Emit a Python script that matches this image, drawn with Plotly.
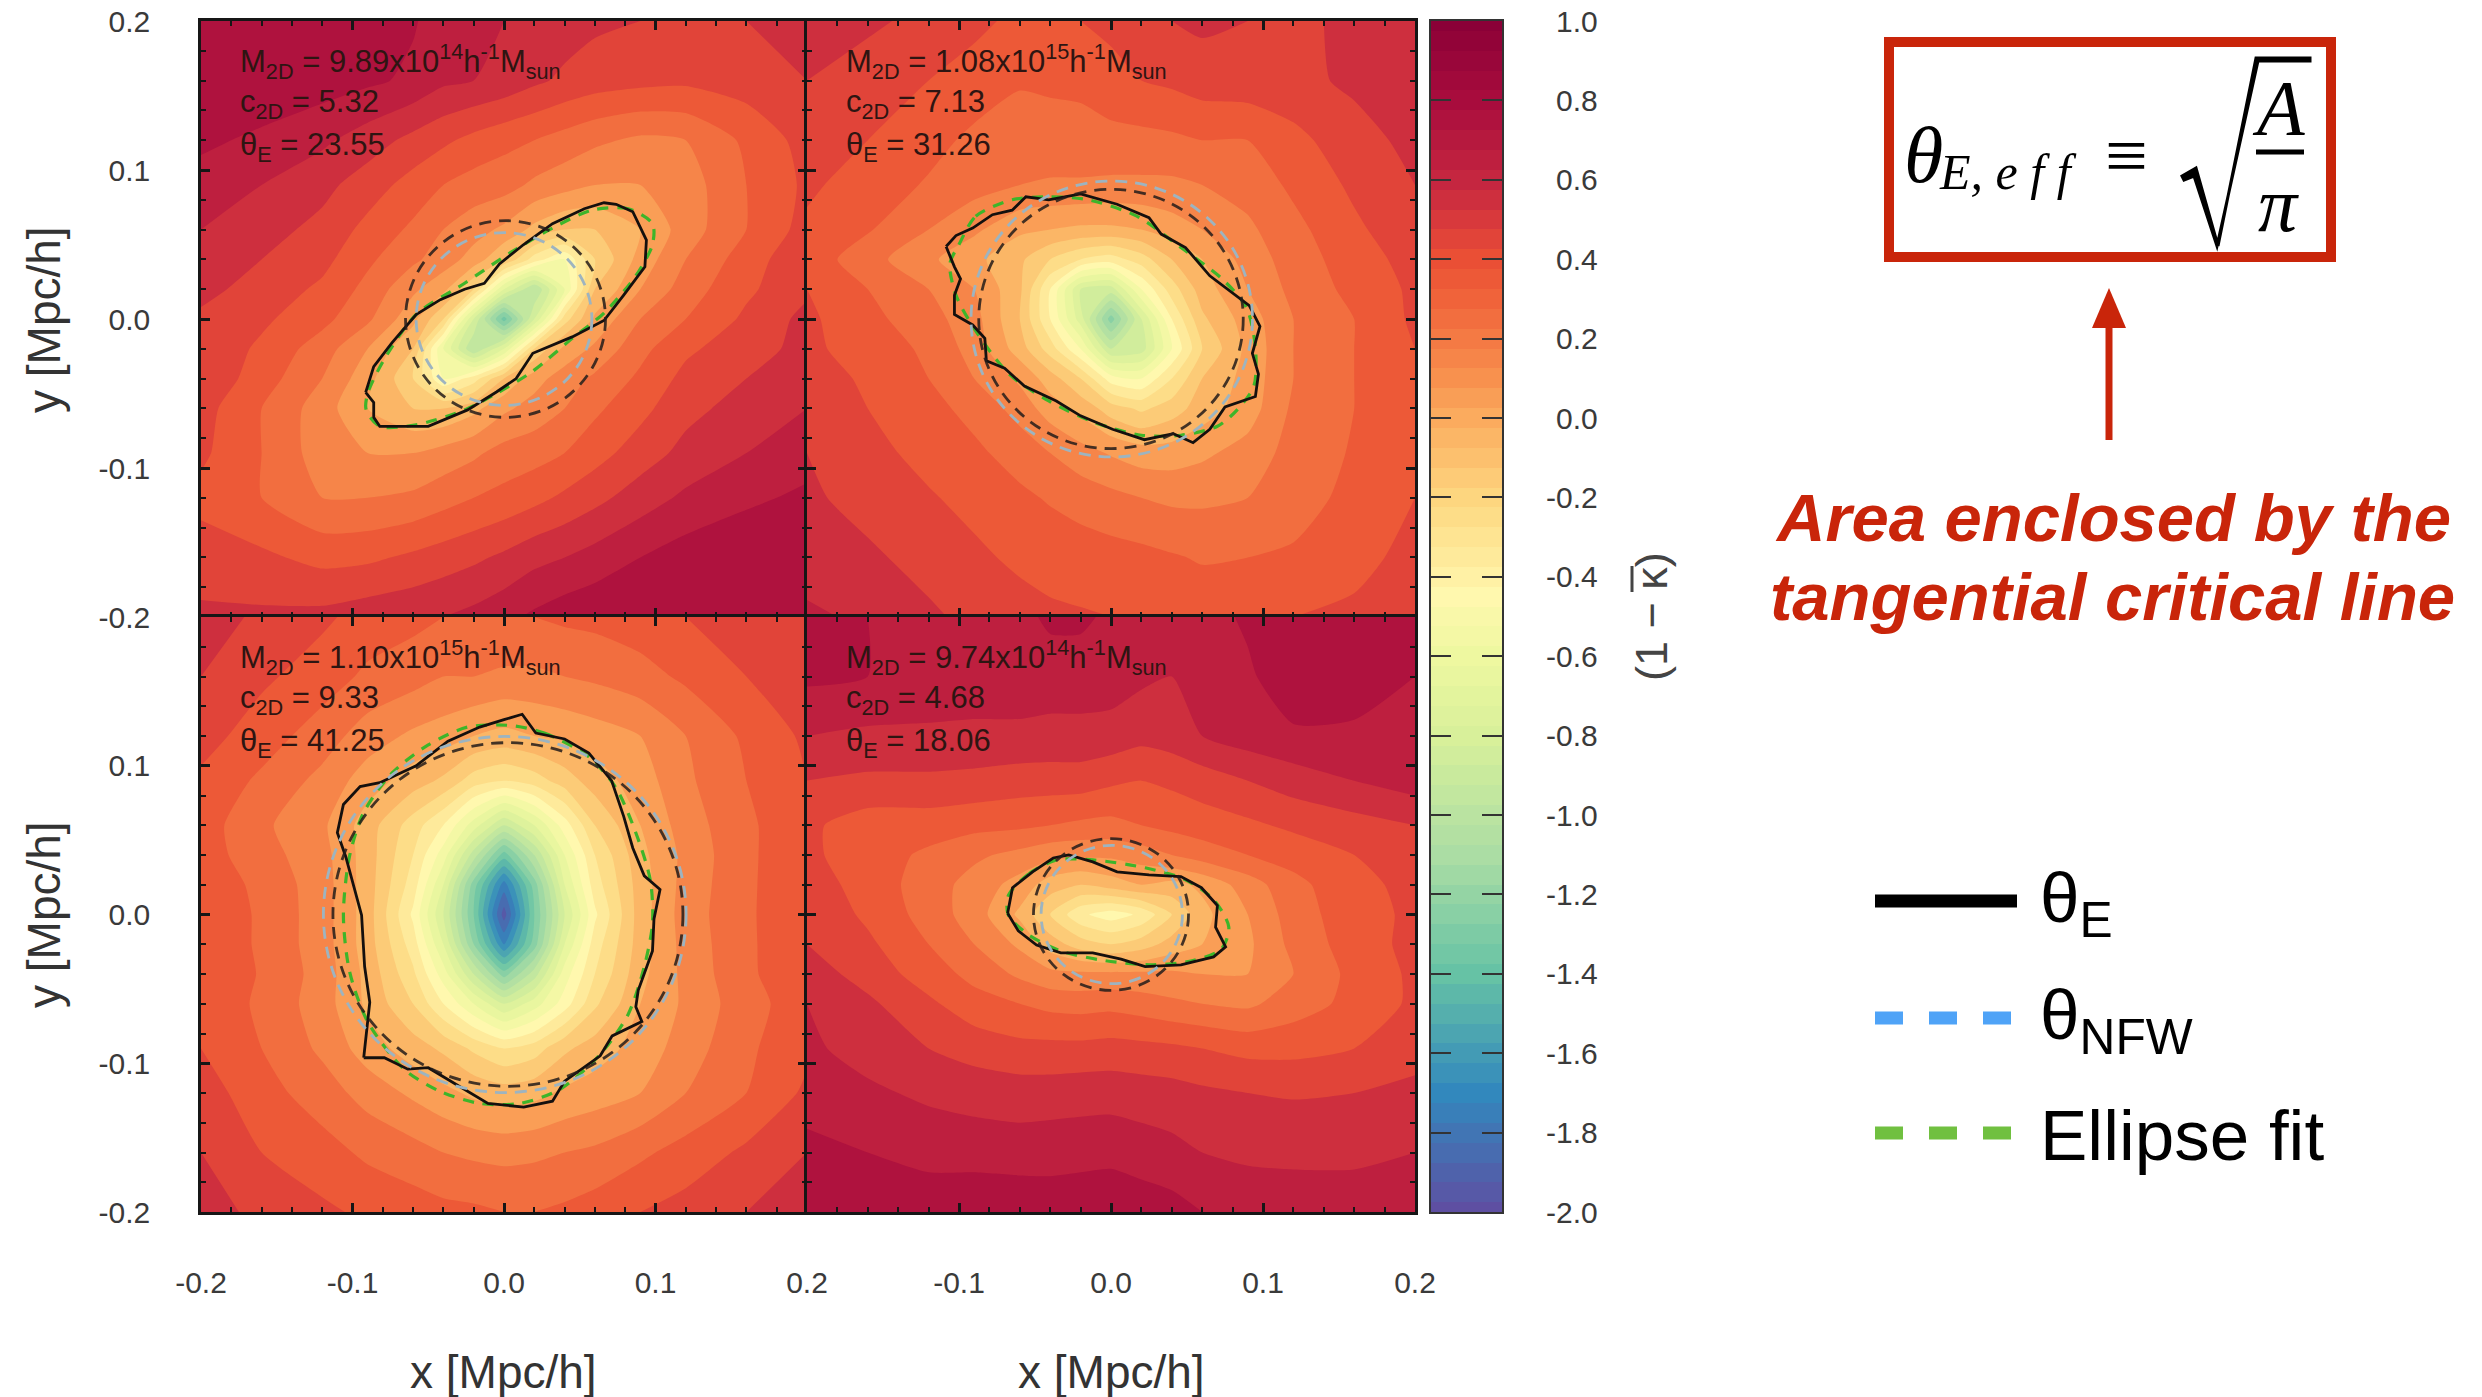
import numpy as np
import plotly.graph_objects as go

W, H = 2482, 1397

grid_x = [-.2, -.16, -.12, -.09, -.06, -.04, -.02, 0, .02, .04, .06, .09, .12, .16, .2]
grid_y = [.2, .16, .12, .09, .06, .04, .02, 0, -.02, -.04, -.06, -.09, -.12, -.16, -.2]

p1_z = [
 [.78,.78,.77,.75,.71,.65,.62,.6,.58,.55,.52,.5,.5,.5,.52],
 [.78,.77,.75,.72,.68,.62,.6,.57,.52,.48,.45,.43,.42,.45,.5],
 [.72,.68,.62,.55,.47,.42,.37,.33,.3,.26,.22,.18,.2,.32,.44],
 [.66,.6,.53,.45,.36,.3,.26,.24,.18,.14,.1,.1,.15,.3,.42],
 [.6,.54,.47,.37,.28,.2,.14,.08,-.03,-.1,-.1,0,.15,.3,.44],
 [.57,.5,.43,.32,.22,.15,.06,-.1,-.35,-.5,-.2,.04,.2,.35,.48],
 [.53,.46,.38,.27,.12,.03,-.2,-.7,-1.0,-.6,-.1,.1,.25,.38,.48],
 [.48,.42,.33,.22,.03,-.2,-.8,-1.35,-.8,-.25,.02,.2,.3,.42,.53],
 [.48,.38,.25,.1,-.1,-.6,-1.0,-.7,-.2,.03,.12,.27,.38,.46,.53],
 [.48,.35,.2,.04,-.2,-.5,-.35,-.1,.06,.15,.22,.32,.43,.5,.57],
 [.44,.3,.15,0,-.1,-.1,-.03,.08,.14,.2,.28,.37,.47,.54,.6],
 [.42,.3,.15,.1,.1,.14,.18,.24,.26,.3,.36,.45,.53,.6,.66],
 [.37,.3,.2,.2,.22,.26,.3,.33,.37,.42,.47,.55,.62,.68,.72],
 [.45,.42,.37,.38,.42,.45,.48,.52,.57,.6,.64,.7,.75,.78,.78],
 [.52,.52,.53,.56,.58,.6,.63,.67,.72,.76,.78,.76,.74,.72,.76],
]
p2_z = [
 [.55,.52,.47,.43,.37,.38,.4,.43,.47,.5,.52,.5,.48,.52,.55],
 [.5,.45,.4,.35,.31,.32,.33,.36,.4,.42,.45,.46,.47,.52,.55],
 [.47,.4,.33,.28,.25,.25,.25,.27,.27,.28,.3,.3,.37,.46,.53],
 [.42,.35,.29,.24,.2,.19,.19,.18,.18,.18,.2,.24,.32,.42,.5],
 [.38,.31,.2,.12,.02,.0,-.02,-.02,0,.05,.1,.18,.27,.38,.47],
 [.36,.24,.12,.03,-.08,-.2,-.3,-.35,-.25,-.1,0,.14,.25,.35,.44],
 [.4,.3,.2,.1,-.08,-.4,-.8,-.85,-.5,-.25,-.05,.1,.23,.33,.42],
 [.42,.33,.24,.14,-.1,-.4,-.75,-1.25,-.8,-.4,-.12,.05,.2,.3,.42],
 [.42,.36,.28,.16,-.05,-.25,-.5,-.9,-.85,-.5,-.2,.03,.2,.3,.4],
 [.46,.38,.3,.2,.08,-.05,-.2,-.45,-.5,-.3,-.1,.04,.2,.3,.4],
 [.47,.4,.33,.27,.16,.05,-.03,-.15,-.22,-.15,-.05,.05,.22,.3,.38],
 [.5,.43,.37,.32,.26,.2,.14,.09,.05,.05,.08,.14,.24,.31,.38],
 [.52,.46,.41,.37,.32,.29,.26,.23,.2,.18,.18,.2,.27,.32,.4],
 [.55,.52,.46,.42,.38,.36,.35,.34,.33,.31,.29,.3,.31,.37,.43],
 [.62,.58,.52,.47,.44,.42,.41,.4,.39,.38,.37,.38,.4,.42,.45],
]
p3_z = [
 [.55,.48,.42,.36,.33,.3,.3,.3,.3,.32,.33,.36,.4,.45,.5],
 [.5,.42,.35,.28,.24,.2,.2,.18,.18,.2,.22,.26,.32,.4,.45],
 [.44,.35,.25,.15,.08,.05,0,-.03,0,.02,.05,.1,.2,.32,.42],
 [.38,.28,.17,.05,-.05,-.12,-.25,-.3,-.25,-.15,-.05,.05,.18,.3,.4],
 [.35,.22,.12,-.05,-.25,-.4,-.65,-.9,-.7,-.45,-.2,0,.15,.28,.38],
 [.35,.24,.14,-.05,-.3,-.55,-.95,-1.35,-1.0,-.6,-.3,-.03,.13,.28,.38],
 [.38,.27,.15,-.05,-.35,-.7,-1.25,-1.75,-1.25,-.7,-.35,-.05,.14,.28,.39],
 [.4,.28,.15,-.05,-.42,-.8,-1.3,-1.95,-1.3,-.8,-.42,-.05,.15,.28,.4],
 [.4,.28,.15,-.05,-.35,-.7,-1.2,-1.7,-1.25,-.7,-.35,-.05,.14,.28,.39],
 [.4,.29,.16,-.03,-.28,-.55,-.9,-1.25,-.95,-.55,-.3,-.03,.13,.28,.38],
 [.38,.28,.15,-.02,-.2,-.4,-.6,-.8,-.65,-.45,-.22,0,.12,.26,.36],
 [.4,.3,.18,.05,-.05,-.12,-.22,-.3,-.25,-.12,-.05,.04,.15,.28,.38],
 [.45,.34,.25,.16,.08,.03,-.02,-.05,-.03,.02,.05,.1,.2,.3,.42],
 [.5,.4,.34,.28,.24,.2,.18,.17,.18,.2,.22,.28,.34,.42,.5],
 [.55,.47,.42,.38,.35,.33,.32,.3,.3,.32,.35,.4,.44,.5,.58],
]
p4_z = [
 [.72,.7,.68,.66,.67,.72,.72,.68,.63,.62,.65,.72,.78,.78,.72],
 [.72,.7,.67,.65,.65,.65,.65,.65,.62,.6,.65,.68,.78,.78,.7],
 [.6,.58,.58,.58,.58,.57,.57,.56,.53,.55,.6,.65,.68,.67,.7],
 [.5,.48,.48,.47,.45,.45,.45,.42,.4,.42,.45,.5,.55,.6,.65],
 [.42,.35,.35,.33,.32,.3,.28,.27,.3,.33,.35,.38,.42,.46,.5],
 [.42,.35,.28,.22,.17,.13,.12,.12,.15,.2,.25,.3,.34,.4,.45],
 [.45,.36,.25,.16,.06,-.05,-.1,-.05,0,-.03,.02,.15,.27,.37,.43],
 [.48,.38,.26,.15,-.02,-.2,-.38,-.45,-.38,-.2,-.03,.1,.25,.36,.42],
 [.5,.42,.3,.2,.08,-.05,-.15,-.2,-.15,-.06,0,.08,.23,.35,.43],
 [.55,.46,.35,.27,.18,.13,.12,.12,.12,.12,.1,.1,.2,.33,.42],
 [.6,.52,.42,.34,.3,.27,.26,.27,.25,.22,.2,.18,.25,.33,.42],
 [.62,.56,.5,.46,.43,.43,.43,.44,.43,.42,.4,.37,.37,.4,.47],
 [.67,.62,.58,.56,.55,.55,.56,.56,.55,.54,.52,.5,.49,.5,.52],
 [.72,.7,.67,.66,.65,.66,.66,.67,.65,.63,.6,.58,.58,.58,.6],
 [.77,.75,.76,.78,.78,.76,.78,.78,.76,.74,.7,.67,.65,.65,.67],
]

p1_crit_x = [-.0913,-.086,-.074,-.058,-.042,-.026,-.013,-.003,.013,.032,.053,.066,.074,.085,.094,.093,.079,.066,.045,.019,.008,-.005,-.024,-.05,-.082,-.086,-.086,-.0913]
p1_crit_y = [-.0492,-.032,-.016,.003,.013,.02,.024,.037,.05,.064,.074,.078,.077,.072,.053,.035,.016,-.001,-.012,-.023,-.04,-.049,-.061,-.072,-.072,-.066,-.056,-.0492]
p1_ell_x = [.098,.082,.058,.032,.005,-.026,-.058,-.079,-.09,-.091,-.082,-.058,-.026,-.005,.019,.045,.066,.087,.098,.098]
p1_ell_y = [.064,.074,.073,.061,.045,.024,.003,-.027,-.05,-.061,-.072,-.071,-.061,-.05,-.035,-.013,.004,.029,.05,.064]

p2_crit_x = [-.1085,-.103,-.099,-.103,-.103,-.091,-.083,-.082,-.07,-.057,-.036,-.02,.001,.022,.041,.054,.065,.075,.095,.097,.093,.098,.091,.075,.065,.049,.033,.025,.004,-.02,-.041,-.056,-.065,-.078,-.091,-.102,-.1085]
p2_crit_y = [.0487,.035,.027,.016,.003,-.004,-.013,-.028,-.033,-.045,-.055,-.065,-.074,-.081,-.077,-.083,-.074,-.059,-.052,-.037,-.023,-.005,.009,.021,.029,.048,.057,.068,.077,.084,.08,.082,.073,.07,.061,.056,.0487]
p2_ell_x = [-.1,-.089,-.065,-.041,-.015,.017,.046,.073,.089,.095,.094,.083,.07,.046,.02,-.012,-.041,-.067,-.089,-.102,-.106,-.1]
p2_ell_y = [.05,.069,.08,.082,.08,.069,.048,.027,.008,-.019,-.045,-.061,-.072,-.078,-.078,-.069,-.055,-.037,-.008,.016,.037,.05]

p3_crit_x = [-.0926,-.09,-.0886,-.092,-.094,-.1045,-.11,-.106,-.095,-.082,-.058,-.037,-.016,0,.012,.021,.04,.056,.071,.079,.085,.0926,.103,.099,.098,.0886,.087,.091,.0714,.0635,.04,.032,.013,-.0106,-.0265,-.05,-.0635,-.079,-.0926]
p3_crit_y = [-.0963,-.072,-.059,-.035,-.0005,.039,.055,.074,.086,.0886,.1,.1165,.126,.131,.1346,.122,.118,.1085,.09,.066,.0447,.026,.0168,-.003,-.0245,-.051,-.062,-.072,-.0816,-.095,-.112,-.1255,-.1295,-.127,-.1175,-.103,-.104,-.0963,-.0963]
p3_ell_x = [.005,.0265,.056,.074,.087,.0966,.098,.0926,.082,.0635,.037,.0106,-.016,-.042,-.066,-.09,-.102,-.106,-.102,-.0926,-.074,-.05,-.024,.005]
p3_ell_y = [.127,.122,.106,.085,.055,.023,-.006,-.035,-.067,-.094,-.1175,-.127,-.127,-.119,-.104,-.072,-.038,-.0005,.039,.0686,.095,.114,.126,.127]

p4_crit_x = [-.068,-.0648,-.0516,-.038,-.0278,-.012,.004,.025,.046,.0595,.07,.0688,.0754,.0675,.046,.0225,.0066,-.012,-.033,-.049,-.061,-.068]
p4_crit_y = [.0008,.018,.0287,.038,.04,.0354,.0287,.0266,.0255,.018,.006,-.0085,-.0218,-.0285,-.0338,-.035,-.03,-.0258,-.0258,-.0205,-.011,.0008]
p4_ell_x = [-.0675,-.054,-.0357,-.012,.0225,.049,.0675,.0775,.0728,.054,.0278,-.004,-.033,-.054,-.0675,-.0675]
p4_ell_y = [.0128,.0274,.0367,.0367,.0314,.0234,.01,-.0085,-.023,-.031,-.0338,-.031,-.0245,-.0138,-.0005,.0128]

nfw_cx = [0, .0005, .0005, .0005]
nfw_r = [.058, .0926, .1197, .0465]
blk_cx = [.001, 0, .0026, 0]
blk_r = [.066, .087, .1155, .051]

mass_text = ["9.89x10<sup>14</sup>", "1.08x10<sup>15</sup>", "1.10x10<sup>15</sup>", "9.74x10<sup>14</sup>"]
c2d = ["5.32", "7.13", "9.33", "4.68"]
theta_e = ["23.55", "31.26", "41.25", "18.06"]

tick_major = [-.2, -.1, 0, .1, .2]
cb_ticks = [1.0, .8, .6, .4, .2, 0, -.2, -.4, -.6, -.8, -1.0, -1.2, -1.4, -1.6, -1.8, -2.0]
cb_labels = ["1.0", "0.8", "0.6", "0.4", "0.2", "0.0", "-0.2", "-0.4", "-0.6", "-0.8", "-1.0", "-1.2", "-1.4", "-1.6", "-1.8", "-2.0"]
cb_levels = np.arange(-2.0, 1.001, .05).tolist()

cs_stops = [(-2, "#5e4fa2"), (-1.7, "#3288bd"), (-1.4, "#66c2a5"), (-1.1, "#abdda4"), (-.8, "#d8f09a"), (-.6, "#eef8a0"),
            (-.45, "#fff8ae"), (-.2, "#fdd67f"), (0, "#fbab5e"), (.1, "#f8914e"), (.2, "#f47a44"), (.3, "#f0633a"),
            (.4, "#ea4f35"), (.5, "#d8393c"), (.6, "#c52640"), (.8, "#a80c3d"), (1.0, "#8b0037")]
colorscale = [[(v + 2) / 3, c] for v, c in cs_stops]

RED = "#c9250a"
FONT = "Liberation Sans"
TXT = "#333333"
PX_L, PX_M, PX_R = 201, 807, 1415
PY_T, PY_M, PY_B = 21, 617, 1212

def px(x): return x / W
def py(y): return 1 - y / H

fig = go.Figure()
fields = [p1_z, p2_z, p3_z, p4_z]
crits = [(p1_crit_x, p1_crit_y), (p2_crit_x, p2_crit_y), (p3_crit_x, p3_crit_y), (p4_crit_x, p4_crit_y)]
ells = [(p1_ell_x, p1_ell_y), (p2_ell_x, p2_ell_y), (p3_ell_x, p3_ell_y), (p4_ell_x, p4_ell_y)]
boxes = [(PX_L, PX_M, PY_T, PY_M), (PX_M, PX_R, PY_T, PY_M), (PX_L, PX_M, PY_M, PY_B), (PX_M, PX_R, PY_M, PY_B)]

annotations, shapes = [], []
def note(text, x, y, size, color=TXT, family=FONT, xanchor="left", yanchor="middle", angle=0, yref="paper"):
    annotations.append(dict(text=text, x=px(x), y=py(y) if yref == "paper" else y, xref="paper", yref=yref,
                            xanchor=xanchor, yanchor=yanchor, showarrow=False, textangle=angle,
                            font=dict(family=family, size=size, color=color)))

for i in range(4):
    n = i + 1
    xa, ya = f"x{n}", f"y{n}"
    fig.add_trace(go.Contour(x=grid_x, y=grid_y[::-1], z=fields[i][::-1], xaxis=xa, yaxis=ya, zmin=-2, zmax=1,
                             colorscale=colorscale, showscale=False, line_width=0, line_smoothing=.6,
                             contours=dict(start=-2, end=1, size=.1, coloring="fill", showlines=False)))
    fig.add_trace(go.Scatter(x=ells[i][0], y=ells[i][1], xaxis=xa, yaxis=ya, mode="lines", showlegend=False,
                             line=dict(color="#3db52a", width=3.2, dash="11px,9px", shape="spline", smoothing=.8)))
    fig.add_trace(go.Scatter(x=crits[i][0], y=crits[i][1], xaxis=xa, yaxis=ya, mode="lines", showlegend=False,
                             line=dict(color="#15100e", width=2.8)))
    shapes.append(dict(type="circle", xref=xa, yref=ya, x0=nfw_cx[i] - nfw_r[i], x1=nfw_cx[i] + nfw_r[i],
                       y0=-nfw_r[i], y1=nfw_r[i], line=dict(color="#9db4c0", width=2.8, dash="12px,8px")))
    shapes.append(dict(type="circle", xref=xa, yref=ya, x0=blk_cx[i] - blk_r[i], x1=blk_cx[i] + blk_r[i],
                       y0=-blk_r[i], y1=blk_r[i], line=dict(color="rgba(35,28,26,.85)", width=2.8, dash="12px,8px")))
    l, r, t, b = boxes[i]
    bottom_row = i >= 2
    left_col = i % 2 == 0
    xt = tick_major if i == 2 else tick_major[1:]
    yt = tick_major if i == 0 else tick_major[:-1]
    common = dict(range=[-.2, .2], showgrid=False, zeroline=False, showline=True, linecolor="#161616", linewidth=2.5,
                  mirror="ticks", ticks="inside", ticklen=9, tickwidth=2.5, tickcolor="#161616", automargin=False,
                  minor=dict(ticks="inside", dtick=.02, tick0=-.2, ticklen=5, tickwidth=1.8, tickcolor="#161616", showgrid=False),
                  tickfont=dict(family=FONT, size=30, color="#3a3a3a"))
    fig.update_layout({
        f"xaxis{n}": dict(common, domain=[px(l), px(r)], anchor=ya, tickvals=xt if bottom_row else tick_major,
                          ticklabelstandoff=42,
                          ticktext=[("%.1f" % v) for v in (xt if bottom_row else tick_major)], showticklabels=bottom_row),
        f"yaxis{n}": dict(common, domain=[py(b), py(t)], anchor=xa, tickvals=yt if left_col else tick_major,
                          ticklabelstandoff=42,
                          ticktext=[("%.1f" % v) for v in (yt if left_col else tick_major)], showticklabels=left_col),
    })
    lx = l + 37
    note(f"M<sub>2D</sub> = {mass_text[i]}h<sup>-1</sup>M<sub>sun</sub>", lx, t + 41, 31, "#2e1512")
    note(f"c<sub>2D</sub> = {c2d[i]}", lx, t + 83, 31, "#2e1512")
    note(f"θ<sub>E</sub> = {theta_e[i]}", lx, t + 126, 31, "#2e1512")

fig.add_trace(go.Heatmap(x=[.5], y=cb_levels, z=[[v] for v in cb_levels], xaxis="x5", yaxis="y5", zmin=-2, zmax=1,
                         colorscale=colorscale, showscale=False))
fig.update_layout(
    xaxis5=dict(domain=[px(1431), px(1502)], range=[0, 1], anchor="y5", showticklabels=False, ticks="", showgrid=False,
                zeroline=False, showline=True, mirror=True, linecolor="#333", linewidth=2, automargin=False),
    yaxis5=dict(domain=[py(PY_B), py(PY_T)], range=[-2, 1], anchor="x5", tickvals=cb_ticks, ticks="inside", ticklen=20,
                tickwidth=2, tickcolor="#333", mirror="ticks", showticklabels=False, showgrid=False, zeroline=False,
                showline=True, linecolor="#333", linewidth=2, automargin=False),
)
for v, s in zip(cb_ticks, cb_labels):
    note(s, 1600, v, 30, "#3a3a3a", xanchor="right", yref="y5")

for cx in (503, 1111):
    note("x [Mpc/h]", cx, 1372, 46, xanchor="center")
for cy in (320, 915):
    note("y [Mpc/h]", 44, cy, 46, xanchor="center", angle=-90)
note("(1 − κ)", 1651, 617, 45, "#444444", xanchor="center", angle=-90)

def line(x0, y0, x1, y1, color, width, dash="solid"):
    shapes.append(dict(type="line", xref="paper", yref="paper", x0=px(x0), x1=px(x1), y0=py(y0), y1=py(y1),
                       line=dict(color=color, width=width, dash=dash)))

line(1632, 566, 1632, 592, "#444444", 3)

# formula box
shapes.append(dict(type="rect", xref="paper", yref="paper", x0=px(1889), x1=px(2331), y0=py(42), y1=py(257),
                   line=dict(color=RED, width=10), fillcolor="rgba(0,0,0,0)"))
SERIF = "Liberation Serif"
note("<i>θ</i>", 1902, 155, 80, "#000", SERIF)
note("<i>E, e f f</i>", 1937, 172, 50, "#000", SERIF)
note("≡", 2103, 155, 76, "#000", SERIF)
shapes.append(dict(type="path", xref="paper", yref="paper", line=dict(color="#000", width=3), fillcolor="#000",
                   path=f"M {px(2182)} {py(176)} L {px(2196)} {py(168)} L {px(2218)} {py(246)} L {px(2256)} {py(58)} L {px(2310)} {py(58)} "
                        f"L {px(2310)} {py(61)} L {px(2258)} {py(61)} L {px(2217)} {py(246)} L {px(2194)} {py(176)} L {px(2184)} {py(180)} Z"))
note("<i>A</i>", 2278, 108, 78, "#000", SERIF, xanchor="center")
line(2256, 152, 2304, 152, "#000", 5)
note("<i>π</i>", 2278, 205, 78, "#000", SERIF, xanchor="center")

# arrow
line(2109, 440, 2109, 328, RED, 7)
shapes.append(dict(type="path", xref="paper", yref="paper", line=dict(color=RED, width=0), fillcolor=RED,
                   path=f"M {px(2109)} {py(288)} L {px(2126)} {py(328)} L {px(2092)} {py(328)} Z"))
note("<b><i>Area enclosed by the</i></b>", 2113, 517, 67, RED, xanchor="center")
note("<b><i>tangential critical line</i></b>", 2112, 597, 67, RED, xanchor="center")

# key
line(1875, 901, 2017, 901, "#000", 13)
line(1875, 1018, 2012, 1018, "#4fa3f7", 13, "28px,26px")
line(1875, 1133, 2012, 1133, "#70c040", 13, "28px,26px")
note("θ<sub>E</sub>", 2038, 903, 71, "#000")
note("θ<sub>NFW</sub>", 2038, 1020, 71, "#000")
note("Ellipse fit", 2038, 1135, 71, "#000")

fig.update_layout(width=W, height=H, autosize=False, margin=dict(l=0, r=0, t=0, b=0), showlegend=False,
                  paper_bgcolor="white", plot_bgcolor="white", shapes=shapes, annotations=annotations,
                  font=dict(family=FONT))
fig.write_html("out.html", config=dict(displayModeBar=False),
               post_script="document.body.style.margin='0';document.body.style.overflow='hidden';")
